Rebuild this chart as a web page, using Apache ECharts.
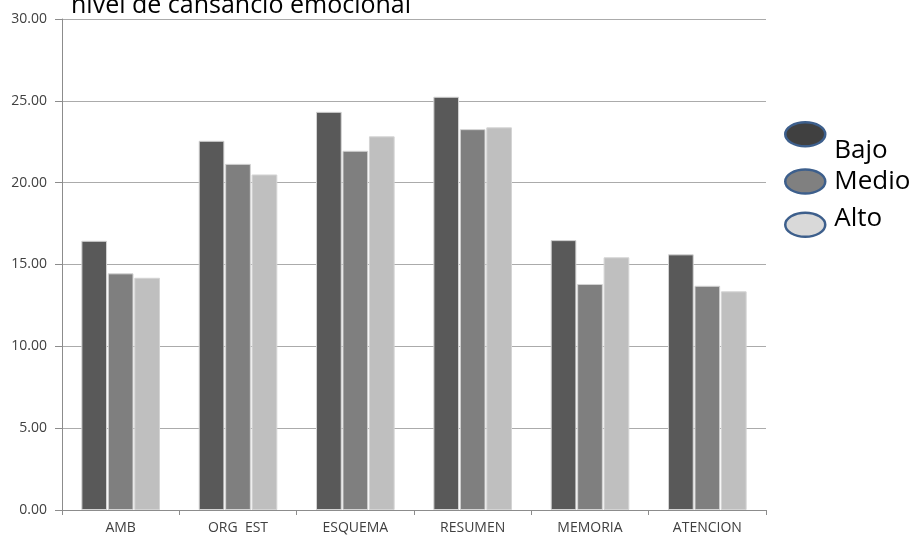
<!DOCTYPE html>
<html>
<head>
<meta charset="utf-8">
<script src="https://cdn.jsdelivr.net/npm/echarts@6/dist/echarts.min.js"></script>
<style>html,body{margin:0;padding:0;background:#fff}#c{width:914px;height:536px}</style>
</head>
<body>
<div id="c"></div>
<script>
const titleText = 'nivel de cansancio emocional';
const categories = ['AMB', 'ORG  EST', 'ESQUEMA', 'RESUMEN', 'MEMORIA', 'ATENCION'];
const seriesNames = ['Bajo', 'Medio', 'Alto'];
const bajo = [16.45, 22.56, 24.33, 25.25, 16.49, 15.62];
const medio = [14.46, 21.15, 21.95, 23.27, 13.81, 13.70];
const alto = [14.19, 20.50, 22.83, 23.38, 15.44, 13.36];
const yTicks = [0, 5, 10, 15, 20, 25, 30];

const barColors = ['#595959', '#7f7f7f', '#bfbfbf'];
const legendFill = ['#404040', '#808080', '#d9d9d9'];
const legendRich = ['lo', 'mid', 'hi'];
const ellipse = 'path://M0,12 A20,12 0 1,1 40,12 A20,12 0 1,1 0,12 Z';
const font = 'Open Sans, Liberation Sans, sans-serif';

const chart = echarts.init(document.getElementById('c'), null, {renderer: 'canvas'});
const values = [bajo, medio, alto];
const richBase = {fontSize: 26, color: '#000', fontFamily: font};
chart.setOption({
  animation: false,
  title: {
    text: titleText, left: 66, top: -12,
    textStyle: {fontSize: 25, fontWeight: 'normal', color: '#000', fontFamily: font}
  },
  legend: {
    orient: 'vertical', left: 779, top: 116,
    itemWidth: 40, itemHeight: 25, itemGap: 5,
    icon: ellipse,
    itemStyle: {borderColor: '#3d5f8c', borderWidth: 2.5},
    formatter: name => '{' + legendRich[seriesNames.indexOf(name)] + '|' + name + '}',
    textStyle: {
      fontSize: 26, color: '#000', fontFamily: font, padding: [0, 0, 0, 4],
      rich: {
        lo: Object.assign({lineHeight: 58, verticalAlign: 'bottom'}, richBase),
        mid: Object.assign({}, richBase),
        hi: Object.assign({lineHeight: 50, verticalAlign: 'top', padding: [6, 0, 0, 0]}, richBase)
      }
    },
    data: seriesNames.map((n, i) => ({name: n, itemStyle: {color: legendFill[i]}}))
  },
  grid: {left: 62, right: 148, top: 19, bottom: 26, containLabel: false},
  xAxis: {
    type: 'category', data: categories,
    axisLine: {lineStyle: {color: '#8c8c8c'}},
    axisTick: {show: true, length: 5, lineStyle: {color: '#8c8c8c'}},
    axisLabel: {fontSize: 14, color: '#404040', fontFamily: font, margin: 11}
  },
  yAxis: {
    type: 'value', min: yTicks[0], max: yTicks[yTicks.length - 1], interval: 5,
    axisLine: {show: true, lineStyle: {color: '#8c8c8c'}},
    axisTick: {show: true, length: 7, lineStyle: {color: '#8c8c8c'}},
    axisLabel: {fontSize: 14, color: '#404040', fontFamily: font, margin: 15,
      formatter: v => v.toFixed(2)},
    splitLine: {lineStyle: {color: '#ababab', width: 1}}
  },
  series: seriesNames.map((n, i) => ({
    name: n, type: 'bar', data: values[i],
    barCategoryGap: '33%', barGap: '3%',
    itemStyle: {color: barColors[i], borderColor: '#d4d4d4', borderWidth: 1}
  }))
});
</script>
</body>
</html>
